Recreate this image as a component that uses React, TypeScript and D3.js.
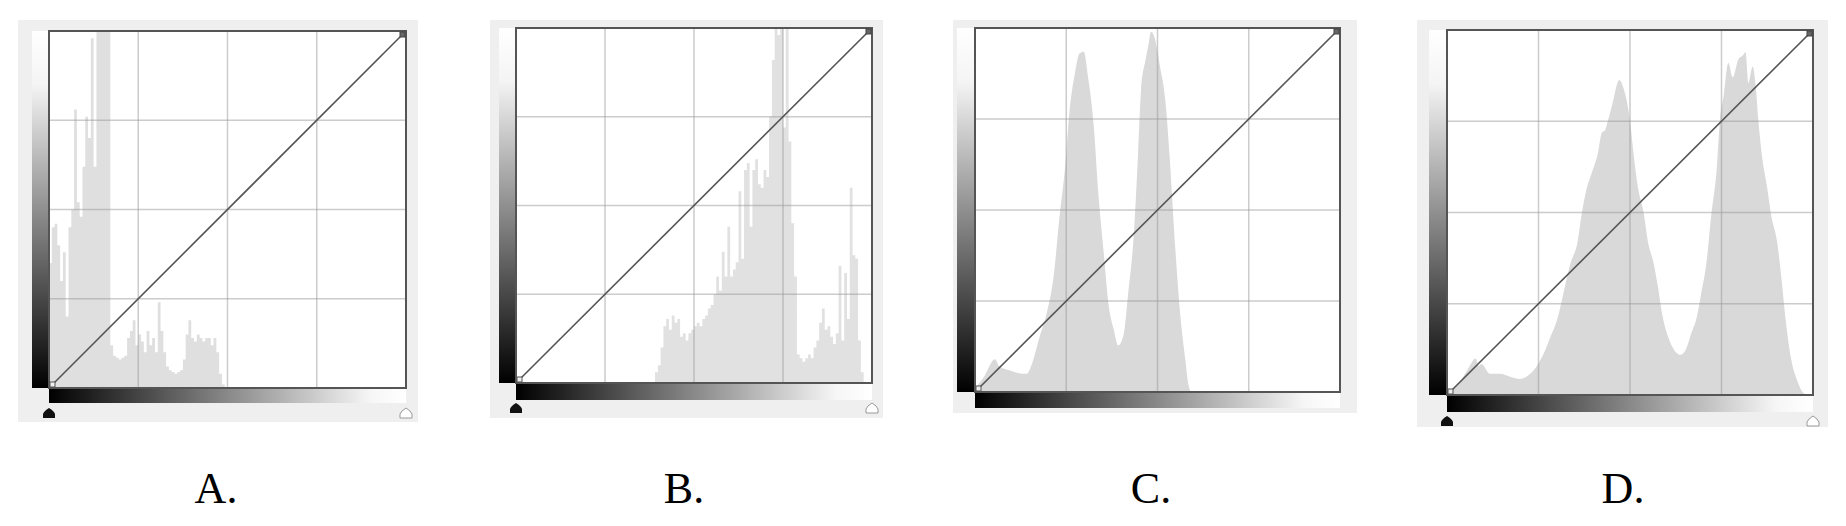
import React from "react";
import * as d3 from "d3";

// ---------- data ----------
const panelLabels = ["A.", "B.", "C.", "D."];
const gridFractions = [0.25, 0.5, 0.75];

// Panel A: spiky histogram, 128 bins, starting at bin 0 (relative height 0..1)
const histABins = 128;
const histAStart = 0;
const histA = [0.35, 0.45, 0.46, 0.40, 0.30, 0.38, 0.20, 0.45, 0.50, 0.78, 0.52, 0.48, 0.62, 0.76, 0.70, 0.98,
  0.62, 1, 1, 1, 1, 1, 0.12, 0.09, 0.085, 0.08, 0.085, 0.09, 0.14, 0.16, 0.19, 0.12,
  0.15, 0.13, 0.10, 0.16, 0.12, 0.14, 0.10, 0.24, 0.16, 0.10, 0.06, 0.05, 0.045, 0.04, 0.045, 0.05,
  0.08, 0.15, 0.19, 0.14, 0.13, 0.15, 0.14, 0.13, 0.14, 0.14, 0.12, 0.14, 0.10, 0.04, 0.01];

// Panel B: spiky histogram, 128 bins, starting at bin 50
const histBBins = 128;
const histBStart = 50;
const histB = [0.03, 0.05, 0.10, 0.16, 0.18, 0.15, 0.19, 0.17, 0.18, 0.13, 0.14, 0.12, 0.14, 0.15, 0.16, 0.17,
  0.16, 0.18, 0.19, 0.21, 0.22, 0.25, 0.30, 0.26, 0.37, 0.30, 0.44, 0.30, 0.32, 0.34, 0.54, 0.35,
  0.60, 0.62, 0.44, 0.60, 0.63, 0.56, 0.55, 0.60, 0.58, 0.75, 0.91, 1, 0.98, 1, 0.72, 1,
  0.68, 0.45, 0.30, 0.08, 0.07, 0.06, 0.07, 0.08, 0.07, 0.10, 0.12, 0.17, 0.21, 0.15, 0.16, 0.13,
  0.11, 0.14, 0.33, 0.12, 0.31, 0.18, 0.55, 0.36, 0.35, 0.12, 0.03];

// Panel C: smooth histogram (level 0..255, relative count)
const levelsC = [0, 6, 14, 17, 24, 33, 36, 40, 45, 50, 55, 59, 63, 66, 70, 73, 76, 79, 83, 86, 90, 93, 97, 100,
  104, 107, 111, 114, 116, 119, 121, 123, 126, 129, 133, 136, 140, 143, 147, 149, 151];
const countsC = [0.01, 0.04, 0.09, 0.07, 0.06, 0.05, 0.05, 0.08, 0.15, 0.215, 0.32, 0.48, 0.62, 0.77, 0.88, 0.93,
  0.935, 0.865, 0.73, 0.554, 0.38, 0.25, 0.17, 0.128, 0.16, 0.27, 0.435, 0.66, 0.83, 0.91, 0.95, 0.99,
  0.966, 0.90, 0.80, 0.645, 0.39, 0.23, 0.087, 0.023, 0];

// Panel D: smooth histogram (level 0..255, relative count)
const levelsD = [0, 8, 14, 20, 22, 24, 30, 37, 44, 51, 58, 62, 67, 72, 77, 81, 86, 91, 94, 97, 101, 105, 108,
  110, 112, 116, 118, 120, 123, 125, 128, 130, 133, 137, 140, 144, 147, 150, 154, 158, 163, 167, 170, 174,
  177, 181, 184, 188, 190, 193, 196, 199, 203, 206, 208, 210, 213, 215, 217, 219, 223, 226, 230, 233, 236,
  240, 244, 248, 251];
const countsD = [0.007, 0.03, 0.067, 0.10, 0.08, 0.085, 0.058, 0.058, 0.05, 0.044, 0.058, 0.076, 0.11, 0.158,
  0.21, 0.277, 0.36, 0.42, 0.50, 0.56, 0.61, 0.66, 0.72, 0.725, 0.75, 0.81, 0.845, 0.863, 0.84, 0.81, 0.735,
  0.66, 0.57, 0.50, 0.42, 0.36, 0.295, 0.22, 0.16, 0.125, 0.11, 0.13, 0.167, 0.213, 0.277, 0.37, 0.49, 0.625,
  0.745, 0.826, 0.91, 0.87, 0.92, 0.93, 0.94, 0.855, 0.90, 0.85, 0.75, 0.67, 0.57, 0.49, 0.42, 0.32, 0.204,
  0.094, 0.04, 0.007, 0];

// ---------- layout ----------
type Layout = {
  bg: [number, number, number, number];
  frame: [number, number, number, number];
  leftBarX: number;
  bottomBarY1: number;
  markerY: number | null;
  labelX: number;
};

const layouts: Layout[] = [
  { bg: [18, 20, 418, 422], frame: [49, 31, 406, 388], leftBarX: 32, bottomBarY1: 403, markerY: 409, labelX: 216 },
  { bg: [490, 20, 883, 418], frame: [516, 28, 872, 383], leftBarX: 499, bottomBarY1: 400, markerY: 404, labelX: 684 },
  { bg: [953, 20, 1357, 413], frame: [975, 28, 1340, 392], leftBarX: 957, bottomBarY1: 408, markerY: null, labelX: 1151 },
  { bg: [1417, 20, 1828, 427], frame: [1447, 30, 1813, 395], leftBarX: 1429, bottomBarY1: 412, markerY: 417, labelX: 1623 },
];

function stepPath(values: number[], start: number, bins: number, f: [number, number, number, number]) {
  const [x0, y0, x1, y1] = f;
  const xs = d3.scaleLinear().domain([0, bins]).range([x0, x1]);
  const ys = d3.scaleLinear().domain([0, 1]).range([y1, y0]);
  const pts = values.map((v, i) => ({ i: start + i, v }));
  pts.push({ i: start + values.length, v: 0 });
  const area = d3
    .area<{ i: number; v: number }>()
    .x((d) => xs(d.i))
    .y0(y1)
    .y1((d) => ys(d.v))
    .curve(d3.curveStepAfter);
  return area(pts) || "";
}

function smoothPath(levels: number[], counts: number[], f: [number, number, number, number]) {
  const [x0, y0, x1, y1] = f;
  const xs = d3.scaleLinear().domain([0, 255]).range([x0, x1]);
  const ys = d3.scaleLinear().domain([0, 1]).range([y1, y0]);
  const pts = levels.map((l, i) => ({ l, c: counts[i] }));
  const area = d3
    .area<{ l: number; c: number }>()
    .x((d) => xs(d.l))
    .y0(y1)
    .y1((d) => ys(d.c))
    .curve(d3.curveMonotoneX);
  return area(pts) || "";
}

function markerPath(cx: number, y: number) {
  return `M${cx - 6},${y + 9} L${cx - 6},${y + 5} Q${cx - 5},${y + 2} ${cx},${y - 1} Q${cx + 5},${y + 2} ${cx + 6},${y + 5} L${cx + 6},${y + 9} Z`;
}

function Panel({ idx, lay }: { idx: number; lay: Layout }) {
  const [x0, y0, x1, y1] = lay.frame;
  const gx = d3.scaleLinear().domain([0, 1]).range([x0, x1]);
  const gy = d3.scaleLinear().domain([0, 1]).range([y1, y0]);
  let hist = "";
  let fill = "#d9d9d9";
  if (idx === 0) { hist = stepPath(histA, histAStart, histABins, lay.frame); fill = "#dfdfdf"; }
  if (idx === 1) { hist = stepPath(histB, histBStart, histBBins, lay.frame); fill = "#e1e1e1"; }
  if (idx === 2) hist = smoothPath(levelsC, countsC, lay.frame);
  if (idx === 3) hist = smoothPath(levelsD, countsD, lay.frame);
  const vId = `vgrad${idx}`;
  const hId = `hgrad${idx}`;
  return (
    <g>
      <defs>
        <linearGradient id={vId} x1="0" y1="0" x2="0" y2="1">
          <stop offset="0" stopColor="#ffffff" />
          <stop offset="0.15" stopColor="#f4f4f4" />
          <stop offset="1" stopColor="#000000" />
        </linearGradient>
        <linearGradient id={hId} x1="0" y1="0" x2="1" y2="0">
          <stop offset="0" stopColor="#000000" />
          <stop offset="0.9" stopColor="#f6f6f6" />
          <stop offset="1" stopColor="#ffffff" />
        </linearGradient>
      </defs>
      <rect x={lay.bg[0]} y={lay.bg[1]} width={lay.bg[2] - lay.bg[0]} height={lay.bg[3] - lay.bg[1]} fill="#efefef" />
      <rect x={lay.leftBarX} y={y0} width={x0 - lay.leftBarX} height={y1 - y0} fill={`url(#${vId})`} />
      <rect x={x0} y={y1} width={x1 - x0} height={lay.bottomBarY1 - y1} fill={`url(#${hId})`} />
      <rect x={x0} y={y0} width={x1 - x0} height={y1 - y0} fill="#ffffff" />
      <path d={hist} fill={fill} />
      {gridFractions.map((g) => (
        <g key={g}>
          <line x1={gx(g)} x2={gx(g)} y1={y0} y2={y1} stroke="#9a9a9a" strokeOpacity={0.5} strokeWidth={1.5} />
          <line x1={x0} x2={x1} y1={gy(g)} y2={gy(g)} stroke="#9a9a9a" strokeOpacity={0.5} strokeWidth={1.5} />
        </g>
      ))}
      <line x1={gx(0)} y1={gy(0)} x2={gx(1)} y2={gy(1)} stroke="#555" strokeWidth={1.6} />
      <rect x={x0} y={y0} width={x1 - x0} height={y1 - y0} fill="none" stroke="#555" strokeWidth={2} />
      <rect x={gx(0) + 1} y={gy(0) - 6} width={5} height={5} fill="#eee" stroke="#555" strokeWidth={1} />
      <rect x={gx(1) - 6} y={gy(1) + 1} width={5} height={5} fill="#666" stroke="#444" strokeWidth={1} />
      {lay.markerY !== null && (
        <g>
          <path d={markerPath(x0, lay.markerY)} fill="#111" />
          <path d={markerPath(x1, lay.markerY)} fill="#fff" stroke="#999" strokeWidth={1} />
        </g>
      )}
      <text x={lay.labelX} y={503} textAnchor="middle" fontFamily="'Liberation Serif', 'Times New Roman', serif" fontSize={44} fill="#000">
        {panelLabels[idx]}
      </text>
    </g>
  );
}

export default function App() {
  return (
    <div style={{ position: "absolute", left: 0, top: 0 }}>
      <svg width={1846} height={526} style={{ display: "block", background: "#fff" }}>
        {layouts.map((lay, i) => (
          <Panel key={i} idx={i} lay={lay} />
        ))}
      </svg>
    </div>
  );
}
